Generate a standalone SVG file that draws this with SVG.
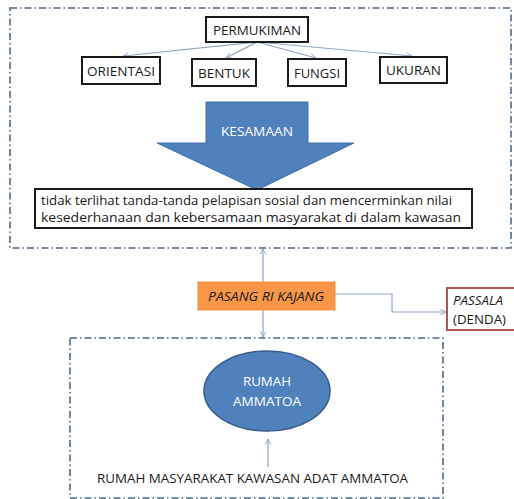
<svg xmlns="http://www.w3.org/2000/svg" width="514" height="499" viewBox="0 0 514 499">
<defs>
<marker id="ah" viewBox="0 0 10 10" refX="9" refY="5" markerWidth="7" markerHeight="7" orient="auto" markerUnits="userSpaceOnUse">
<path d="M1,1 L9,5 L1,9" fill="none" stroke="#8EA6C4" stroke-width="1.3"/>
</marker>
</defs>
<style>
.cont{fill:none;stroke:#4E6A89;stroke-width:1.6;stroke-dasharray:7 3 1.5 3}
.box{fill:#fff;stroke:#1a1a1a;stroke-width:2}
.t{font-family:"Open Sans","Noto Sans",sans-serif;font-size:13.5px;fill:#1a1a1a}
.w{font-family:"Open Sans","Noto Sans",sans-serif;font-size:13px;fill:#fff}
.con{fill:none;stroke:#8EA6C4;stroke-width:1.2;marker-end:url(#ah)}
</style>
<rect width="514" height="499" fill="#fff"/>
<rect class="cont" x="10" y="8" width="501" height="240"/>
<rect class="cont" x="70" y="338" width="373" height="160"/>
<g id="connectors">
<path class="con" d="M257,42 L123,56"/>
<path class="con" d="M257,42 L226,58"/>
<path class="con" d="M257,42 L316,58"/>
<path class="con" d="M257,42 L412,56"/>
<path class="con" d="M263,282 L263,249"/>
<path class="con" d="M263,310 L263,337"/>
<path class="con" d="M335,294 L392,294 L392,312 L446,312"/>
<path class="con" d="M268,467 L268,439"/>
</g>
<g id="permukiman"><rect class="box" x="206" y="17" width="102" height="25"/><text class="t" x="257" y="34.5" text-anchor="middle" textLength="88" lengthAdjust="spacingAndGlyphs">PERMUKIMAN</text></g>
<g id="orientasi"><rect class="box" x="82" y="57" width="78" height="27"/><text class="t" x="121" y="75.5" text-anchor="middle" textLength="68" lengthAdjust="spacingAndGlyphs">ORIENTASI</text></g>
<g id="bentuk"><rect class="box" x="192" y="59" width="64" height="27"/><text class="t" x="224" y="77.5" text-anchor="middle" textLength="52" lengthAdjust="spacingAndGlyphs">BENTUK</text></g>
<g id="fungsi"><rect class="box" x="288" y="59" width="58" height="27"/><text class="t" x="317" y="77.5" text-anchor="middle" textLength="46" lengthAdjust="spacingAndGlyphs">FUNGSI</text></g>
<g id="ukuran"><rect class="box" x="380" y="57" width="67" height="26"/><text class="t" x="413.5" y="74.5" text-anchor="middle" textLength="55" lengthAdjust="spacingAndGlyphs">UKURAN</text></g>
<g id="kesamaan"><path d="M206,102 L308,102 L308,143 L354,143 L257,190 L157,143 L206,143 Z" fill="#4F81BD" stroke="#3F6EA6" stroke-width="1"/><text class="w" x="257" y="136" text-anchor="middle" textLength="72" lengthAdjust="spacingAndGlyphs">KESAMAAN</text></g>
<g id="deskripsi"><rect class="box" x="35" y="189" width="437" height="39"/>
<text class="t" x="41" y="205" textLength="411" lengthAdjust="spacingAndGlyphs">tidak terlihat tanda-tanda pelapisan sosial dan mencerminkan nilai</text>
<text class="t" x="41" y="222" textLength="420" lengthAdjust="spacingAndGlyphs">kesederhanaan dan kebersamaan masyarakat di dalam kawasan</text></g>
<g id="pasang"><rect x="198" y="282" width="137" height="28" fill="#F79646" stroke="#F28C3A" stroke-width="1"/><text class="t" x="266" y="301" text-anchor="middle" font-style="italic" fill="#3a2a1a" textLength="116" lengthAdjust="spacingAndGlyphs">PASANG RI KAJANG</text></g>
<g id="passala"><rect x="447" y="288" width="70" height="42" fill="#fff" stroke="#B85450" stroke-width="2"/><text class="t" x="453" y="305" font-style="italic" textLength="50" lengthAdjust="spacingAndGlyphs">PASSALA</text><text class="t" x="453" y="324" textLength="53" lengthAdjust="spacingAndGlyphs">(DENDA)</text></g>
<g id="rumah"><ellipse cx="267" cy="391" rx="63" ry="40" fill="#4F81BD" stroke="#385D8A" stroke-width="1.5"/><text class="w" x="267" y="386" text-anchor="middle" textLength="48" lengthAdjust="spacingAndGlyphs">RUMAH</text><text class="w" x="267" y="406" text-anchor="middle" textLength="68" lengthAdjust="spacingAndGlyphs">AMMATOA</text></g>
<g id="masyarakat"><text class="t" x="97" y="483" textLength="311" lengthAdjust="spacingAndGlyphs">RUMAH MASYARAKAT KAWASAN ADAT AMMATOA</text></g>
</svg>
